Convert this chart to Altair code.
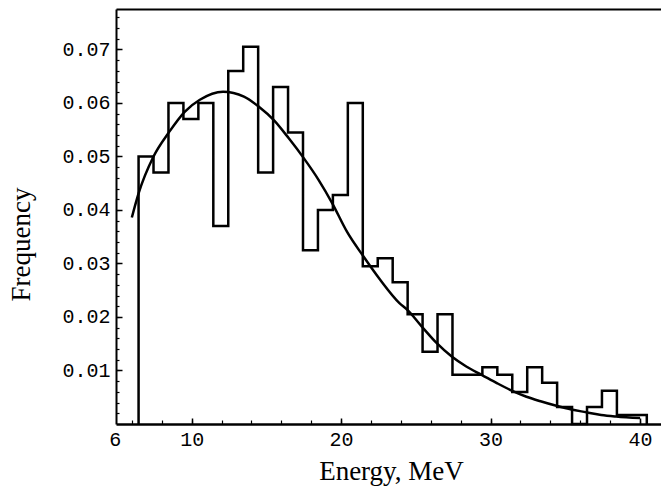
import altair as alt
import pandas as pd

# Histogram: left bin edges (MeV), last right edge, and frequencies
bin_left = [6.45, 7.45, 8.45, 9.45, 10.45, 11.45, 12.45, 13.45, 14.45, 15.45,
            16.45, 17.45, 18.45, 19.45, 20.45, 21.45, 22.45, 23.45, 24.45, 25.45,
            26.45, 27.45, 28.45, 29.45, 30.45, 31.45, 32.45, 33.45, 34.45, 35.45,
            36.45, 37.45, 38.45, 39.45]
bin_end = 40.45
freq = [0.0500, 0.0470, 0.0600, 0.0570, 0.0600, 0.0370, 0.0660, 0.0705, 0.0470, 0.0630,
        0.0545, 0.0325, 0.0400, 0.0428, 0.0600, 0.0295, 0.0310, 0.0265, 0.0205, 0.0135,
        0.0205, 0.0092, 0.0092, 0.0106, 0.0092, 0.0060, 0.0106, 0.0077, 0.0032, 0.0000,
        0.0032, 0.0062, 0.0017, 0.0017]

# Fitted curve
curve_x = [6.0, 6.45, 7.45, 8.5, 9.55, 10.55, 12.1, 13.5, 14.5, 15.5, 16.5, 17.5, 18.5,
           19.4, 20.4, 21.5, 22.6, 23.9, 24.45, 25.4, 26.4, 27.4, 28.4, 29.4, 30.45,
           31.45, 32.4, 33.4, 34.4, 35.4, 36.4, 37.4, 38.4, 40.0]
curve_y = [0.0386, 0.0431, 0.0500, 0.0546, 0.0584, 0.0606, 0.0621, 0.0612, 0.0593, 0.0568,
           0.0534, 0.0497, 0.0456, 0.0413, 0.0359, 0.0313, 0.0270, 0.0226, 0.0213, 0.0182,
           0.0151, 0.0126, 0.0107, 0.0092, 0.0076, 0.0062, 0.0051, 0.0042, 0.0034, 0.0027,
           0.0022, 0.0017, 0.0014, 0.0011]

x_labels = [6, 10, 20, 30, 40]
x_minor = [6, 8, 10, 12, 14, 16, 18, 20, 22, 24, 26, 28, 30, 32, 34, 36, 38, 40]
x_major = [10, 20, 30, 40]
y_labels = [0.01, 0.02, 0.03, 0.04, 0.05, 0.06, 0.07]
y_minor = [0.002, 0.004, 0.006, 0.008, 0.01, 0.012, 0.014, 0.016, 0.018, 0.02,
           0.022, 0.024, 0.026, 0.028, 0.03, 0.032, 0.034, 0.036, 0.038, 0.04,
           0.042, 0.044, 0.046, 0.048, 0.05, 0.052, 0.054, 0.056, 0.058, 0.06,
           0.062, 0.064, 0.066, 0.068, 0.07, 0.072, 0.074, 0.076]

# Step outline table
hx = [bin_left[0]] + bin_left + [bin_end]
hy = [0.0] + freq + [0.0]
hist_df = pd.DataFrame({"x": hx, "y": hy, "i": list(range(len(hx)))})
curve_df = pd.DataFrame({"x": curve_x, "y": curve_y})

W, H = 545, 415
xscale = alt.Scale(domain=[4.94, 41.4], nice=False, zero=False)
yscale = alt.Scale(domain=[0, 0.07757], nice=False, zero=False)

MONO = "Liberation Mono"
SERIF = "Liberation Serif"

hist = alt.Chart(hist_df).mark_line(
    interpolate="step-after", color="black", strokeWidth=2.5, strokeJoin="miter"
).encode(
    x=alt.X("x:Q", scale=xscale, axis=alt.Axis(
        orient="bottom", values=x_labels, ticks=False, grid=False,
        domain=True, domainColor="black", domainWidth=2.5,
        labelFont=MONO, labelFontSize=20, labelColor="black", labelPadding=5,
        labelFlush=False,
        labelOffset={"condition": {"test": "datum.value == 6", "value": -17}, "value": 0},
        title="Energy, MeV", titleFont=SERIF, titleFontSize=27, titleFontWeight="normal",
        titleColor="black", titleX=275, titleY=55, titleBaseline="alphabetic",
        titleAlign="center")),
    y=alt.Y("y:Q", scale=yscale, axis=alt.Axis(
        orient="left", values=y_labels, format=".2f", ticks=False, grid=False,
        domain=True, domainColor="black", domainWidth=2,
        labelFont=MONO, labelFontSize=20, labelColor="black", labelPadding=6,
        labelFlush=False,
        title="Frequency", titleFont=SERIF, titleFontSize=27, titleFontWeight="normal",
        titleColor="black", titleX=-87, titleY=235, titleAngle=270,
        titleBaseline="alphabetic", titleAlign="center")),
    order="i:Q",
)

curve = alt.Chart(curve_df).mark_line(
    interpolate="monotone", color="black", strokeWidth=2.5
).encode(
    x=alt.X("x:Q", scale=xscale, axis=alt.Axis(
        orient="top", offset=-H, values=x_minor, labels=False, domain=False,
        ticks=True, tickSize=4, tickColor="black", tickWidth=1.2, grid=False, title="")),
    y=alt.Y("y:Q", scale=yscale, axis=alt.Axis(
        orient="right", offset=-W, values=y_minor, labels=False, domain=False,
        ticks=True, tickSize=3, tickColor="black", tickWidth=1.2, grid=False, title="")),
)

major = alt.Chart(curve_df).mark_line(strokeOpacity=0).encode(
    x=alt.X("x:Q", scale=xscale, axis=alt.Axis(
        orient="top", offset=-H, values=x_major, labels=False, domain=False,
        ticks=True, tickSize=6, tickColor="black", tickWidth=1.5, grid=False, title="")),
    y=alt.Y("y:Q", scale=yscale, axis=alt.Axis(
        orient="right", offset=-W, values=y_labels, labels=False, domain=False,
        ticks=True, tickSize=6, tickColor="black", tickWidth=1.5, grid=False, title="")),
)

frame = alt.Chart(curve_df).mark_line(strokeOpacity=0).encode(
    x=alt.X("x:Q", scale=xscale, axis=alt.Axis(
        orient="top", labels=False, ticks=False, domain=True, domainColor="black",
        domainWidth=2, grid=False, title="")),
    y=alt.Y("y:Q", scale=yscale, axis=None),
)

chart = alt.layer(hist, curve, major, frame).resolve_axis(
    x="independent", y="independent"
).properties(
    width=W, height=H,
    padding={"left": 116, "top": 9, "right": 0, "bottom": 67},
    autosize=alt.AutoSizeParams(type="none"),
    background="white",
).configure_view(stroke=None)

chart.save("out.html", embed_options={"renderer": "svg", "actions": False})
